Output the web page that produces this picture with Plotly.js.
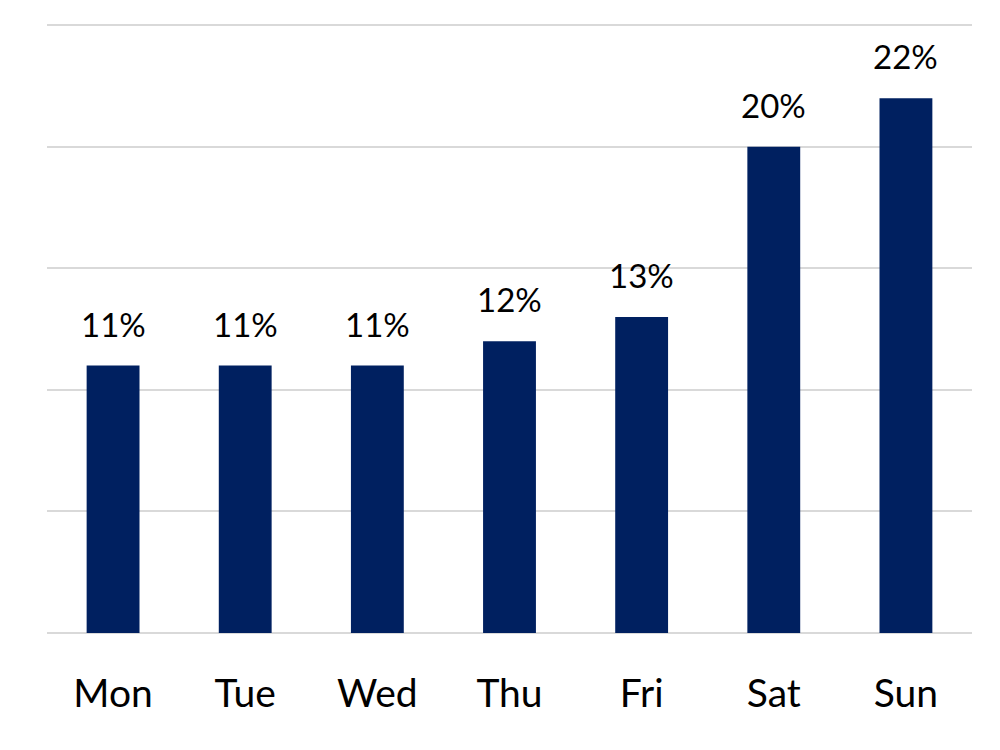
<!DOCTYPE html>
<html><head><meta charset="utf-8">
<script src="https://cdn.plot.ly/plotly-3.0.1.min.js"></script>
<style>html,body{margin:0;padding:0;background:#fff}</style>
</head><body>
<div id="chart" style="width:1000px;height:750px"></div>
<script>
const days = ["Mon","Tue","Wed","Thu","Fri","Sat","Sun"];
const shares = [11, 11, 11, 12, 13, 20, 22];
const labels = ["11%","11%","11%","12%","13%","20%","22%"];

const trace = {
  type: "bar",
  x: days,
  y: shares,
  marker: {color: "#002060"},
  width: 0.4,
  hoverinfo: "skip"
};
const annotations = days.map((d, i) => ({
  x: d, y: shares[i], xref: "x", yref: "y",
  text: labels[i], showarrow: false,
  yanchor: "bottom", yshift: 20,
  font: {family: "Lato, 'Noto Sans', sans-serif", size: 33, color: "#000"}
}));
const layout = {
  width: 1000, height: 750,
  margin: {l: 47, r: 28, t: 18, b: 117},
  paper_bgcolor: "#fff", plot_bgcolor: "#fff",
  showlegend: false,
  bargap: 0.6,
  xaxis: {
    showgrid: false, zeroline: false, showline: false,
    ticks: "", tickfont: {family: "Lato, 'Noto Sans', sans-serif", size: 39, color: "#000"},
    ticklabelstandoff: 34
  },
  yaxis: {
    range: [0, 25.3], tickvals: [0, 5, 10, 15, 20, 25], showticklabels: false,
    showgrid: true, gridcolor: "#d9d9d9", gridwidth: 2,
    zeroline: true, zerolinecolor: "#d9d9d9", zerolinewidth: 2,
    ticks: ""
  },
  annotations: annotations
};
Plotly.newPlot("chart", [trace], layout, {staticPlot: true, displayModeBar: false});
</script>
</body></html>
